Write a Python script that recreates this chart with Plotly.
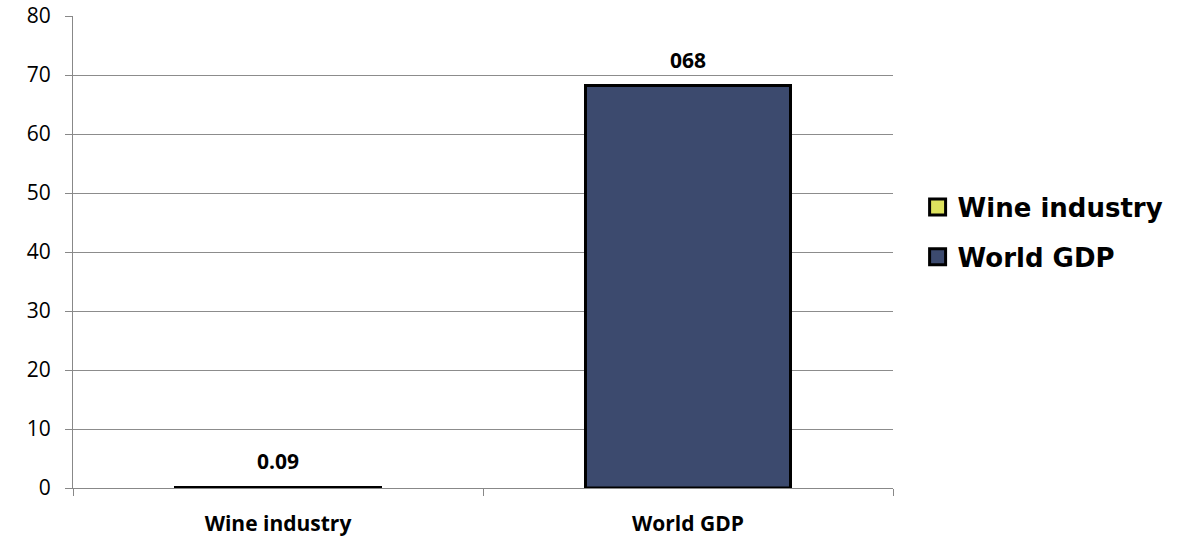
import plotly.graph_objects as go

categories = ["Wine industry", "World GDP"]
values = [0.09, 68.2]
labels = ["0.09", "068"]
colors = ["#dde25e", "#3c4a6e"]

fig = go.Figure()
for cat, val, col in zip(categories, values, colors):
    fig.add_trace(go.Bar(
        x=[cat], y=[val], name=cat, width=0.5, showlegend=False,
        marker=dict(color=col, line=dict(color="#000000", width=3)),
    ))
# legend entries with large square swatches
for cat, col in zip(categories, colors):
    fig.add_trace(go.Scatter(
        x=[None], y=[None], mode="markers", name=cat, legendgroup=cat,
        marker=dict(symbol="square", size=16, color=col,
                    line=dict(color="#000000", width=3)),
    ))

for cat, val, lab in zip(categories, values, labels):
    fig.add_annotation(x=cat, y=val, text="<b>%s</b>" % lab, showarrow=False,
                       yanchor="middle", yshift=26,
                       font=dict(family="Open Sans", size=21, color="#000000"))

fig.update_layout(
    width=1186, height=544,
    margin=dict(l=73, r=293, t=16, b=56),
    paper_bgcolor="white", plot_bgcolor="white",
    barmode="overlay",
    showlegend=True,
    legend=dict(x=1.03, y=0.645, xanchor="left", yanchor="top",
                font=dict(family="DejaVu Sans", size=26, color="#000000", weight="bold"),
                tracegroupgap=13, itemwidth=30),
    xaxis=dict(
        type="category", showgrid=False, automargin=False,
        showline=True, linecolor="#888888", linewidth=1,
        ticks="outside", ticklen=7, tickcolor="#888888",
        tickson="boundaries", ticklabelstandoff=17,
        tickfont=dict(family="Open Sans", size=21, color="#000000"),
        tickvals=categories,
        ticktext=["<b>%s</b>" % c for c in categories],
    ),
    yaxis=dict(
        range=[0, 80], dtick=10, automargin=False,
        showgrid=True, gridcolor="#8c8c8c", gridwidth=1,
        showline=True, linecolor="#888888", linewidth=1,
        ticks="outside", ticklen=7, tickcolor="#888888",
        ticklabelstandoff=10, ticklabeloverflow="allow",
        tickfont=dict(family="Open Sans", size=21, color="#000000"),
        zeroline=False,
    ),
)

fig.write_html("out.html", config={"displayModeBar": False},
               post_script="document.body.style.margin='0';document.body.style.overflow='hidden';")
